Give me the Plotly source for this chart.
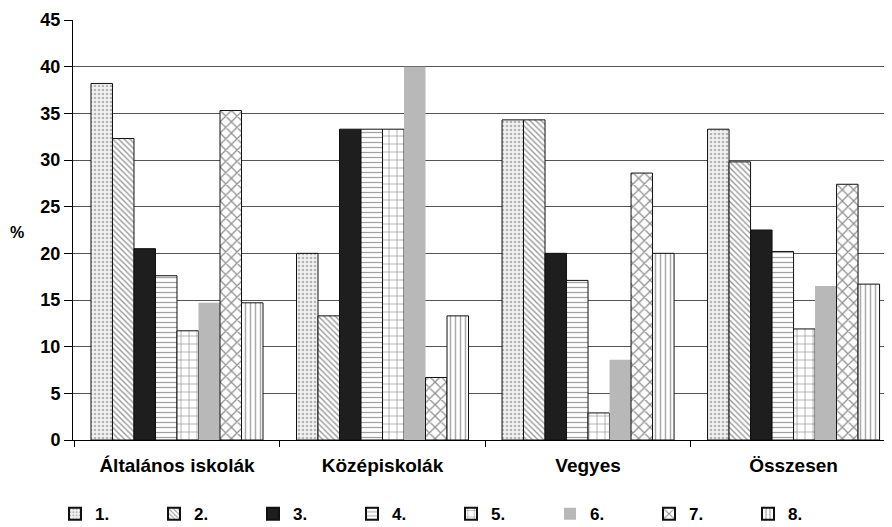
import plotly.graph_objects as go

categories = ["Általános iskolák", "Középiskolák", "Vegyes", "Összesen"]
series_names = ["1.", "2.", "3.", "4.", "5.", "6.", "7.", "8."]
values = {
    "1.": [38.2, 20.0, 34.3, 33.3],
    "2.": [32.3, 13.3, 34.3, 29.8],
    "3.": [20.5, 33.3, 20.0, 22.5],
    "4.": [17.6, 33.3, 17.1, 20.2],
    "5.": [11.7, 33.3, 2.9, 11.9],
    "6.": [14.7, 40.0, 8.6, 16.5],
    "7.": [35.3, 6.7, 28.6, 27.4],
    "8.": [14.7, 13.3, 20.0, 16.7],
}
y_ticks = [0, 5, 10, 15, 20, 25, 30, 35, 40, 45]

styles = {
    "1.": dict(color="white", pattern=dict(shape=".", size=4, solidity=0.35, fgcolor="#777", bgcolor="#f2f2f2", fillmode="overlay"), lw=1),
    "2.": dict(color="white", pattern=dict(shape="\\", size=4, solidity=0.35, fgcolor="#333", bgcolor="white", fillmode="overlay"), lw=1),
    "3.": dict(color="#1e1e1e", pattern=None, lw=1),
    "4.": dict(color="white", pattern=dict(shape="-", size=5, solidity=0.25, fgcolor="#444", bgcolor="white", fillmode="overlay"), lw=1),
    "5.": dict(color="white", pattern=dict(shape="+", size=8, solidity=0.15, fgcolor="#111", bgcolor="white", fillmode="overlay"), lw=1),
    "6.": dict(color="#b8b8b8", pattern=None, lw=0),
    "7.": dict(color="white", pattern=dict(shape="x", size=8, solidity=0.3, fgcolor="#222", bgcolor="white", fillmode="overlay"), lw=1),
    "8.": dict(color="white", pattern=dict(shape="|", size=5, solidity=0.3, fgcolor="#555", bgcolor="white", fillmode="overlay"), lw=1),
}

fig = go.Figure()
for name in series_names:
    s = styles[name]
    marker = dict(color=s["color"], line=dict(color="#111", width=s["lw"]))
    if s["pattern"] is not None:
        marker["pattern"] = s["pattern"]
    fig.add_trace(go.Bar(x=categories, y=values[name], name=name, marker=marker))

# the page body adds an 8px offset, so margins compensate for it
fig.update_layout(
    width=892, height=527,
    margin=dict(l=65, r=8, t=12, b=95, autoexpand=False),
    paper_bgcolor="white", plot_bgcolor="white",
    barmode="group", bargap=0.163, bargroupgap=0,
    font=dict(family="Liberation Sans, Arial, sans-serif", size=14, color="black"),
    showlegend=True,
    legend=dict(orientation="h", xref="container", yref="container",
                x=0.0527, xanchor="left", y=0.0735, yanchor="top",
                entrywidth=54, entrywidthmode="pixels", traceorder="normal",
                font=dict(size=17, family="Liberation Sans, Arial, sans-serif", weight="bold"),
                itemsizing="constant"),
    xaxis=dict(range=[-0.506, 3.479], showline=True, linecolor="black", linewidth=1,
               ticks="outside", tickson="boundaries", ticklen=6, tickcolor="black",
               ticklabelstandoff=8,
               tickfont=dict(size=19, weight="bold"), showgrid=False, automargin=False),
    yaxis=dict(range=[0, 45], tickvals=y_ticks, showline=True, linecolor="black", linewidth=1,
               ticks="outside", ticklen=8, tickcolor="black",
               showgrid=True, gridcolor="#555", gridwidth=1,
               tickfont=dict(size=18, weight="bold"), zeroline=False, automargin=False),
    annotations=[dict(text="%", xref="paper", yref="paper", x=-0.068, y=0.495,
                      showarrow=False, font=dict(size=16, weight="bold"), xanchor="center")],
)

fig.write_html("out.html")
